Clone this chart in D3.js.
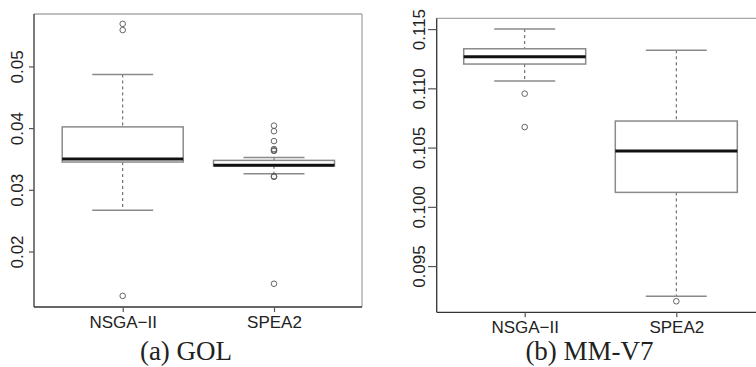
<!DOCTYPE html>
<html><head><meta charset="utf-8">
<script src="https://cdn.jsdelivr.net/npm/d3@7"></script>
<style>body{margin:0;background:#fff}svg{display:block}</style>
</head><body>
<svg id="c" width="756" height="367"></svg>
<script>
const categories = ["NSGA\u2212II", "SPEA2"];
// panel (a) GOL: [lowerWhisker, q1, median, q3, upperWhisker]
const golStats = [[0.0267, 0.0345, 0.0350, 0.0402, 0.0487], [0.03259, 0.0339, 0.0340, 0.03477, 0.03525]];
const golOutliers = [[0.0569, 0.0559, 0.0128], [0.0404, 0.0395, 0.0379, 0.0366, 0.0364, 0.0363, 0.0322, 0.0321, 0.01477]];
const golTicks = [0.02, 0.03, 0.04, 0.05];
// panel (b) MM-V7
const mmStats = [[0.11062, 0.11205, 0.11267, 0.11334, 0.1150], [0.09245, 0.10122, 0.10471, 0.10724, 0.11321]];
const mmOutliers = [[0.10955, 0.10673], [0.09203]];
const mmTicks = [0.095, 0.100, 0.105, 0.110, 0.115];
const captions = ["(a) GOL", "(b) MM-V7"];

const svg = d3.select("#c");

function panel(o) {
  const g = svg.append("g");
  const y = d3.scaleLinear().domain(o.domain).range([o.bottom, o.top]);
  const x = d3.scalePoint().domain(categories).range([o.c0, o.c1]);
  // frame
  g.append("line").attr("x1", o.left).attr("x2", o.right).attr("y1", o.top).attr("y2", o.top).attr("stroke", "#a8a8a8").attr("stroke-width", 1.3);
  g.append("line").attr("x1", o.right).attr("x2", o.right).attr("y1", o.top).attr("y2", o.bottom).attr("stroke", "#a8a8a8").attr("stroke-width", 1.3);
  g.append("line").attr("x1", o.left).attr("x2", o.right).attr("y1", o.bottom).attr("y2", o.bottom).attr("stroke", "#333").attr("stroke-width", 1.3);
  // y axis
  const ya = g.append("g").attr("transform", `translate(${o.left},0)`)
    .call(d3.axisLeft(y).tickValues(o.ticks).tickSize(o.tickLen).tickFormat(d3.format(o.fmt)));
  ya.select(".domain").attr("stroke", "#333").attr("stroke-width", 1.3).attr("d", `M0,${o.top}V${o.bottom}`);
  ya.selectAll(".tick line").attr("stroke", "#555").attr("stroke-width", 1.2);
  ya.selectAll(".tick text").attr("x", null).attr("dy", null)
    .attr("transform", `translate(${o.labX},0) rotate(-90)`).attr("text-anchor", "middle")
    .attr("font-family", "Liberation Sans, Arial, sans-serif").attr("font-size", 17).attr("fill", "#222");
  // x axis
  const xa = g.append("g").attr("transform", `translate(0,${o.bottom})`)
    .call(d3.axisBottom(x).tickSize(5).tickPadding(6));
  xa.select(".domain").remove();
  xa.selectAll(".tick line").attr("stroke", "#555").attr("stroke-width", 1.2);
  xa.selectAll(".tick text").attr("dy", null).attr("y", 21)
    .attr("font-family", "Liberation Sans, Arial, sans-serif").attr("font-size", 17).attr("fill", "#222");
  // boxes
  const bw = o.boxW, cw = o.capW;
  o.stats.forEach((s, i) => {
    const cx = x(categories[i]);
    const b = g.append("g");
    b.append("line").attr("x1", cx).attr("x2", cx).attr("y1", y(s[4])).attr("y2", y(s[3]))
      .attr("stroke", "#555").attr("stroke-dasharray", "3,3").attr("stroke-width", 1);
    b.append("line").attr("x1", cx).attr("x2", cx).attr("y1", y(s[1])).attr("y2", y(s[0]))
      .attr("stroke", "#555").attr("stroke-dasharray", "3,3").attr("stroke-width", 1);
    [s[0], s[4]].forEach(v => b.append("line").attr("x1", cx - cw / 2).attr("x2", cx + cw / 2)
      .attr("y1", y(v)).attr("y2", y(v)).attr("stroke", "#8a8a8a").attr("stroke-width", 1.5));
    b.append("rect").attr("x", cx - bw / 2).attr("width", bw).attr("y", y(s[3])).attr("height", y(s[1]) - y(s[3]))
      .attr("fill", "#fff").attr("stroke", "#8a8a8a").attr("stroke-width", 1.5);
    b.append("line").attr("x1", cx - bw / 2).attr("x2", cx + bw / 2).attr("y1", y(s[2])).attr("y2", y(s[2]))
      .attr("stroke", "#111").attr("stroke-width", 3);
    o.outliers[i].forEach(v => b.append("circle").attr("cx", cx).attr("cy", y(v)).attr("r", 2.8)
      .attr("fill", "none").attr("stroke", "#555").attr("stroke-width", 0.9));
  });
  g.append("text").attr("x", o.capX).attr("y", 360).attr("text-anchor", "middle")
    .attr("font-family", "Liberation Serif, Times New Roman, serif").attr("font-size", 27).attr("fill", "#222")
    .text(o.caption);
}

panel({left: 34, right: 362, top: 14, bottom: 307, domain: [0.0110, 0.0585], ticks: golTicks, fmt: ".2f",
  tickLen: 5, labX: -11, c0: 122.7, c1: 274, boxW: 121, capW: 61, stats: golStats, outliers: golOutliers,
  caption: captions[0], capX: 186});
panel({left: 436.7, right: 770, top: 18.3, bottom: 312.3, domain: [0.09110, 0.11591], ticks: mmTicks, fmt: ".3f",
  tickLen: 8.7, labX: -12, c0: 524.7, c1: 676.3, boxW: 122, capW: 61, stats: mmStats, outliers: mmOutliers,
  caption: captions[1], capX: 589.5});
</script>
</body></html>
